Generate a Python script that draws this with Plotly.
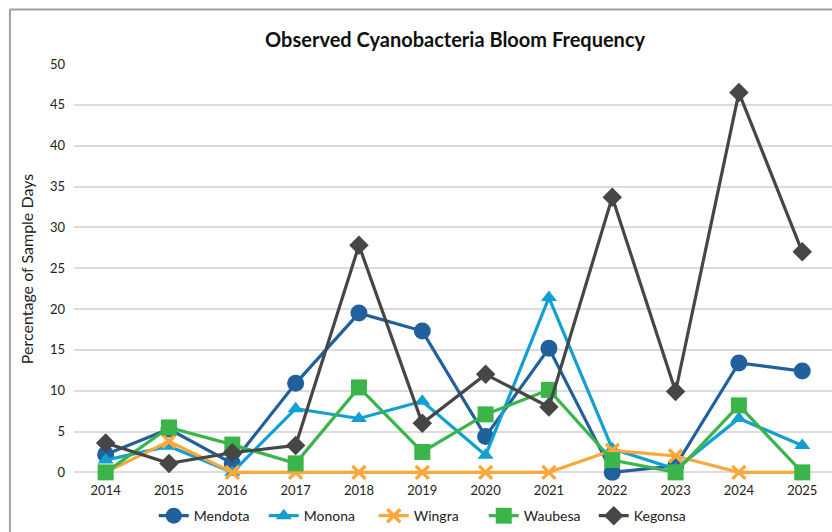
import plotly.graph_objects as go

years = [2014, 2015, 2016, 2017, 2018, 2019, 2020, 2021, 2022, 2023, 2024, 2025]

mendota = [2.2, 5.3, 1.1, 10.9, 19.5, 17.3, 4.4, 15.2, 0.0, 0.8, 13.4, 12.4]
monona = [1.5, 3.2, 0.0, 7.8, 6.6, 8.7, 2.1, 21.4, 2.9, 0.4, 6.6, 3.3]
wingra = [0.0, 3.8, 0.0, 0.0, 0.0, 0.0, 0.0, 0.0, 2.7, 2.0, 0.0, 0.0]
waubesa = [0.0, 5.5, 3.4, 1.1, 10.4, 2.5, 7.1, 10.1, 1.5, 0.0, 8.2, 0.0]
kegonsa = [3.6, 1.1, 2.4, 3.3, 27.8, 6.0, 12.0, 8.0, 33.7, 9.9, 46.5, 27.0]

y_ticks = [0, 5, 10, 15, 20, 25, 30, 35, 40, 45, 50]

series = [
    ("Mendota", mendota, "#21609d", "circle", 17),
    ("Monona", monona, "#129fd2", "triangle-up", 14),
    ("Wingra", wingra, "#fba83a", "x-thin", 13),
    ("Waubesa", waubesa, "#3bb54a", "square", 16),
    ("Kegonsa", kegonsa, "#464646", "diamond", 15),
]

fig = go.Figure()
for name, vals, color, symbol, size in series:
    marker = dict(symbol=symbol, size=size, color=color)
    if symbol == "x-thin":
        marker["line"] = dict(color=color, width=3.5)
    fig.add_trace(go.Scatter(
        x=years, y=vals, name=name, mode="lines+markers",
        line=dict(color=color, width=3.2),
        marker=marker, cliponaxis=False,
    ))

# outer frame of the chart card
fig.add_shape(type="line", xref="paper", yref="paper",
              x0=-0.085, x1=1.02, y0=1.133, y1=1.133,
              line=dict(color="#a0a0a0", width=2))
fig.add_shape(type="line", xref="paper", yref="paper",
              x0=-0.0845, x1=-0.0845, y0=1.133, y1=-0.2,
              line=dict(color="#a0a0a0", width=2))

fig.update_layout(
    width=832, height=532,
    margin=dict(l=74, r=0, t=64, b=58, autoexpand=False),
    paper_bgcolor="white", plot_bgcolor="white",
    font=dict(family="Lato, sans-serif", size=13, color="#222222"),
    title=dict(text="<b>Observed Cyanobacteria Bloom Frequency</b>",
               x=0.547, xanchor="center", y=0.925, yanchor="middle",
               font=dict(size=20, color="#111111")),
    xaxis=dict(range=[2013.5, 2025.47], tickmode="array", tickvals=years,
               ticktext=[str(y) for y in years], showgrid=False,
               zeroline=False, showline=False, ticks="",
               ticklabelstandoff=7,
               tickfont=dict(size=13, color="#222222")),
    yaxis=dict(range=[-0.2, 50], tickmode="array", tickvals=y_ticks,
               showgrid=True, gridcolor="#dcdcdc", gridwidth=1.5,
               zeroline=False, showline=False, ticks="",
               ticklabelstandoff=8,
               tickfont=dict(size=13, color="#222222"),
               title=dict(text="Percentage of Sample Days", standoff=12,
                          font=dict(size=16, color="#222222"))),
    showlegend=True,
    legend=dict(orientation="h", x=0.468, xanchor="center",
                yref="container", y=0.03, yanchor="middle",
                font=dict(size=14, color="#222222"),
                itemwidth=30, entrywidth=65, tracegroupgap=0),
)

fig.write_html("out.html")
